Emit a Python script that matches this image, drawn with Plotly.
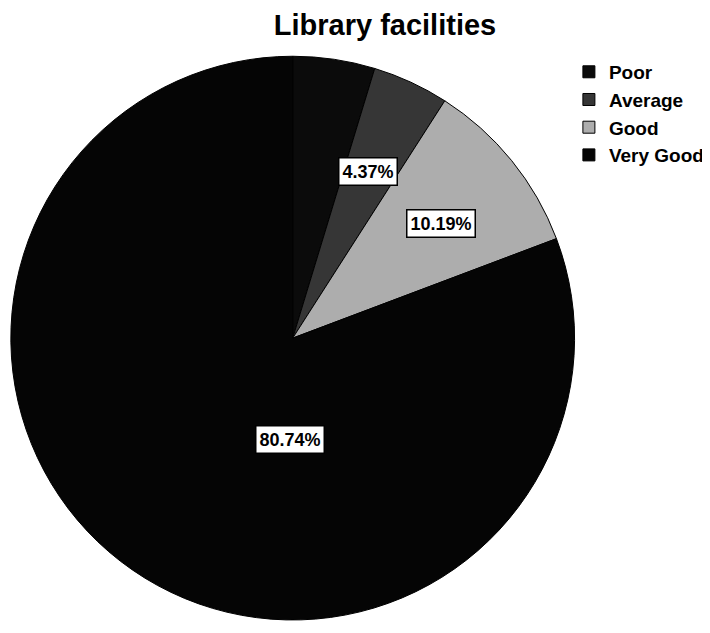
import plotly.graph_objects as go

categories = ["Poor", "Average", "Good", "Very Good"]
percents = [4.70, 4.37, 10.19, 80.74]
colors = ["#0b0b0b", "#363636", "#adadad", "#050505"]

# label annotation placement (paper coords) for shown labels
label_pos = {"Average": (0.507, 0.742), "Good": (0.610, 0.660), "Very Good": (0.397, 0.318)}

fig = go.Figure(go.Pie(
    labels=categories,
    values=percents,
    marker=dict(colors=colors, line=dict(color="#000000", width=1)),
    sort=False,
    direction="clockwise",
    rotation=0,
    textinfo="none",
    domain=dict(x=[0.004, 0.798], y=[0.033, 0.924]),
    hovertemplate="%{label}: %{value:.2f}%<extra></extra>",
))

for cat, val in zip(categories, percents):
    if cat in label_pos:
        x, y = label_pos[cat]
        fig.add_annotation(
            x=x, y=y, xref="paper", yref="paper", xanchor="center", yanchor="middle",
            text=f"{val:.2f}%", showarrow=False,
            font=dict(family="Liberation Sans, Arial", size=18, color="#000000", weight="bold"),
            bgcolor="#ffffff", bordercolor="#000000", borderwidth=1.5, borderpad=3,
        )

fig.update_layout(
    width=710, height=633,
    margin=dict(l=0, r=0, t=0, b=0),
    paper_bgcolor="#ffffff",
    title=dict(text="<b>Library facilities</b>", x=0.531, y=0.973, xanchor="center", yanchor="middle",
               font=dict(family="Liberation Sans, Arial", size=29, color="#000000")),
    showlegend=True,
    legend=dict(x=0.790, y=0.929, xanchor="left", yanchor="top",
                font=dict(family="Liberation Sans, Arial", size=19, color="#000000", weight="bold"),
                tracegroupgap=0, itemwidth=30),
)

fig.write_html("out.html")
